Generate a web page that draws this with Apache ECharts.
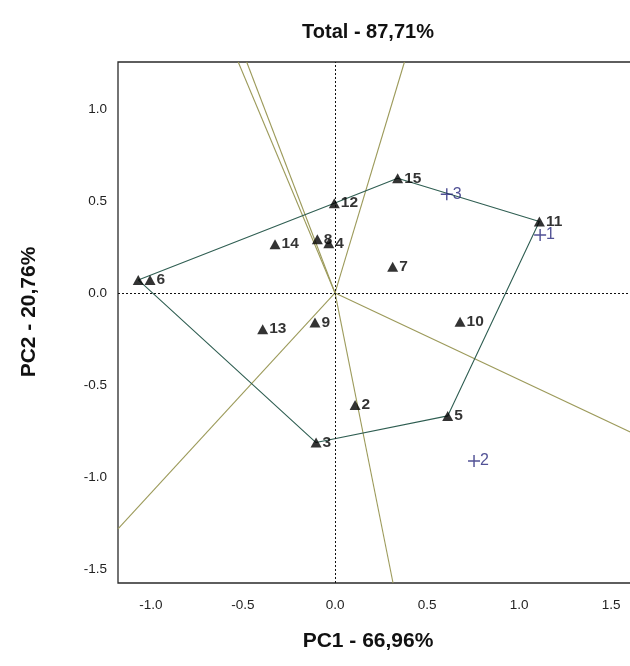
<!DOCTYPE html>
<html>
<head>
<meta charset="utf-8">
<script src="https://cdn.jsdelivr.net/npm/echarts@6/dist/echarts.min.js"></script>
<style>
  html, body { margin: 0; padding: 0; background: #fff; }
  #chart { width: 630px; height: 666px; }
</style>
</head>
<body>
<div id="chart"></div>
<script>
// Genotype scores (PC1, PC2)
const genotypeNames = ['1', '6', '2', '3', '4', '5', '7', '8', '9', '10', '11', '12', '13', '14', '15'];
const genotypePC1 = [-1.069, -1.005, 0.109, -0.103, -0.034, 0.612, 0.313, -0.096, -0.109, 0.679, 1.110, -0.004, -0.393, -0.326, 0.340];
const genotypePC2 = [0.071, 0.071, -0.609, -0.813, 0.270, -0.668, 0.143, 0.292, -0.161, -0.156, 0.388, 0.488, -0.197, 0.265, 0.623];
const hiddenLabels = ['1'];

// Environment scores
const envNames = ['1', '2', '3'];
const envPC1 = [1.114, 0.755, 0.607];
const envPC2 = [0.315, -0.913, 0.536];

// Vertices of the polygon (genotype names, closed)
const polygonOrder = ['1', '12', '15', '11', '5', '3', '1'];

// Rays from the origin (end points on the plot border)
const rayEndPC1 = [-0.526, -0.480, 0.377, 1.662, -1.179, 0.315];
const rayEndPC2 = [1.255, 1.255, 1.255, -0.783, -1.282, -1.576];

// Axis ranges and tick labels
const xRange = [-1.179, 1.662];
const yRange = [-1.576, 1.255];
const xTicks = [-1.0, -0.5, 0.0, 0.5, 1.0, 1.5];
const yTicks = [-1.5, -1.0, -0.5, 0.0, 0.5, 1.0];

const titleText = 'Total - 87,71%';
const xName = 'PC1 - 66,96%';
const yName = 'PC2 - 20,76%';

const genoPoint = name => {
  const i = genotypeNames.indexOf(name);
  return [genotypePC1[i], genotypePC2[i]];
};

const genotypeData = genotypeNames.map((n, i) => ({
  name: n,
  value: [genotypePC1[i], genotypePC2[i]],
  label: { show: hiddenLabels.indexOf(n) < 0 }
}));
const envData = envNames.map((n, i) => ({ name: n, value: [envPC1[i], envPC2[i]] }));
const polygonData = polygonOrder.map(genoPoint);

const raySeries = rayEndPC1.map((x, i) => ({
  type: 'line',
  data: [[0, 0], [x, rayEndPC2[i]]],
  symbol: 'none',
  silent: true,
  clip: true,
  z: 2,
  lineStyle: { color: '#9c9a5a', width: 1.1 },
  animation: false
}));

const plusPath = 'path://M0,4.4h10v1.2h-10zM4.4,0h1.2v10h-1.2z';

const chart = echarts.init(document.getElementById('chart'), null, { renderer: 'canvas' });
chart.setOption({
  backgroundColor: '#ffffff',
  animation: false,
  grid: {
    left: 118, top: 62, width: 523, height: 521,
    outerBoundsMode: 'none', containLabel: false,
    show: true, borderColor: '#2a2a2a', borderWidth: 1.3, backgroundColor: '#fff'
  },
  graphic: [
    {
      type: 'text', x: 368, y: 32,
      style: { text: titleText, fill: '#111', font: 'bold 20px "Liberation Sans"', textAlign: 'center', textVerticalAlign: 'middle' }
    },
    {
      type: 'text', x: 368, y: 641,
      style: { text: xName, fill: '#111', font: 'bold 21px "Liberation Sans"', textAlign: 'center', textVerticalAlign: 'middle' }
    },
    {
      type: 'text', x: 29, y: 312, rotation: Math.PI / 2,
      style: { text: yName, fill: '#111', font: 'bold 21px "Liberation Sans"', textAlign: 'center', textVerticalAlign: 'middle' }
    }
  ],
  xAxis: {
    type: 'value', min: xRange[0], max: xRange[1],
    axisLine: { show: false }, axisTick: { show: false }, splitLine: { show: false },
    axisLabel: {
      customValues: xTicks, margin: 15, fontSize: 13.5, color: '#222',
      fontFamily: 'Liberation Sans', formatter: v => v.toFixed(1)
    }
  },
  yAxis: {
    type: 'value', min: yRange[0], max: yRange[1],
    axisLine: { show: false }, axisTick: { show: false }, splitLine: { show: false },
    axisLabel: {
      customValues: yTicks, margin: 11, fontSize: 13.5, color: '#222',
      fontFamily: 'Liberation Sans', formatter: v => v.toFixed(1)
    }
  },
  series: [
    {
      type: 'line', silent: true, symbol: 'none', data: [],
      markLine: {
        silent: true, symbol: 'none', animation: false,
        label: { show: false },
        lineStyle: { color: '#111', type: [2, 2], width: 1 },
        data: [{ xAxis: 0 }, { yAxis: 0 }]
      },
      z: 1
    },
    ...raySeries,
    {
      type: 'line', data: polygonData, symbol: 'none', silent: true, z: 3,
      lineStyle: { color: '#2f5e52', width: 1.1 }, animation: false
    },
    {
      type: 'scatter', data: genotypeData, symbol: 'triangle', symbolSize: [11, 10], z: 5,
      itemStyle: { color: '#000' },
      label: {
        show: true, position: 'right', distance: 1, formatter: p => p.name,
        color: '#000', fontFamily: 'Liberation Sans', fontWeight: 'bold', fontSize: 15.5
      }
    },
    {
      type: 'scatter', data: envData, symbol: plusPath, symbolSize: 12, z: 5,
      itemStyle: { color: '#26267a' },
      label: {
        show: true, position: 'right', distance: 0, formatter: p => p.name,
        color: '#26267a', fontFamily: 'Liberation Sans', fontSize: 16
      }
    }
  ]
});
</script>
</body>
</html>
